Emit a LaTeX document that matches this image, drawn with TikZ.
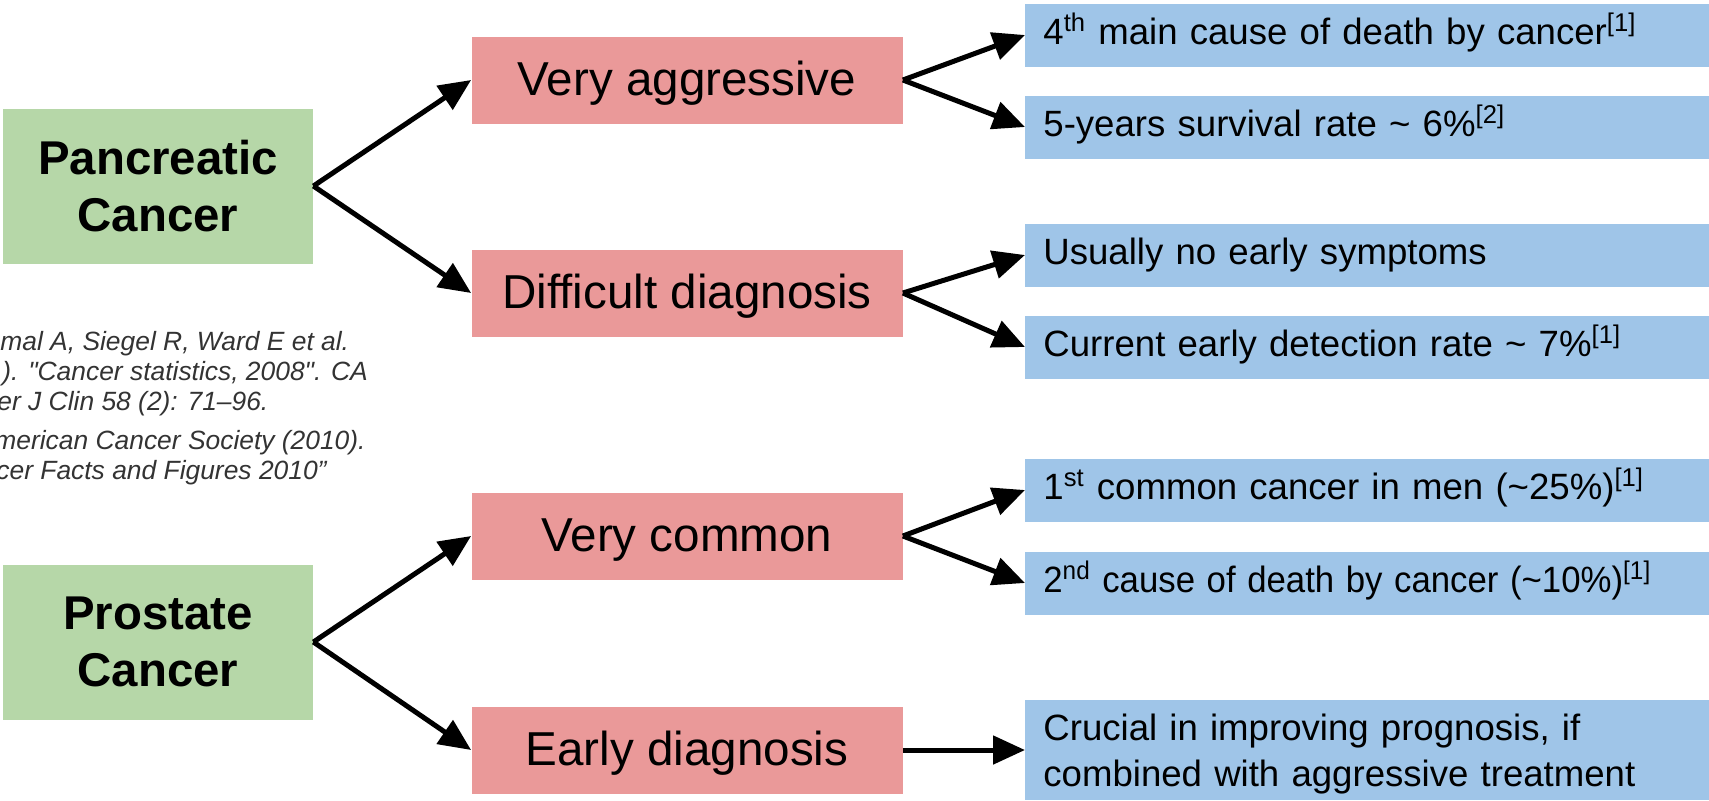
\documentclass[tikz,border=0pt]{standalone}
\usepackage{fontspec}
\setmainfont{Liberation Sans}
\usetikzlibrary{arrows.meta}
\definecolor{boxgreen}{HTML}{B6D7A8}
\definecolor{boxred}{HTML}{EA9999}
\definecolor{boxblue}{HTML}{9FC5E8}
\definecolor{citegray}{HTML}{333333}

\begin{document}
\begin{tikzpicture}[x=0.5pt, y=-0.5pt,
  >={Triangle[length=16pt, width=14pt]},
  link/.style={->, line width=2.5pt},
  cancer/.style={fill=boxgreen, minimum width=155pt, minimum height=77.5pt, align=center, font=\fontsize{23.7}{28.5}\selectfont\bfseries},
  trait/.style={fill=boxred, minimum width=215.5pt, minimum height=43.5pt, text height=20pt, text depth=4.8pt, font=\fontsize{23.8}{28}\selectfont},
  fact/.style={fill=boxblue, anchor=west, text width=324pt, inner xsep=9pt, minimum height=31.5pt, align=left, font=\fontsize{18.3}{21.5}\selectfont},
  onefact/.style={fact, text height=13pt, text depth=4pt},
  cite/.style={anchor=base west, inner sep=0pt, text=citegray, font=\fontsize{13.2}{15.5}\selectfont\itshape}]
\useasboundingbox (0, 0) rectangle (1709, 800);

\node[cancer] (pancreatic) at (158, 186) {Pancreatic\\Cancer};
\node[cancer] (prostate) at (158, 642) {Prostate\\Cancer};

\node[trait] (aggressive) at (687, 80) {Very aggressive};
\node[trait] (difficult) at (687, 293) {Difficult diagnosis};
\node[trait] (common) at (687, 536) {Very common};
\node[trait] (early) at (687, 750) {Early diagnosis};

\node[onefact] (death) at (1025, 35) {4\textsuperscript{th} main cause of death by cancer\textsuperscript{[1]}};
\node[onefact] (survival) at (1025, 127) {5-years survival rate \textasciitilde{} 6\%\textsuperscript{[2]}};
\node[onefact] (symptoms) at (1025, 255) {Usually no early symptoms};
\node[onefact] (detection) at (1025, 347) {Current early detection rate \textasciitilde{} 7\%\textsuperscript{[1]}};
\node[onefact] (men) at (1025, 490) {1\textsuperscript{st} common cancer in men (\textasciitilde25\%)\textsuperscript{[1]}};
\node[onefact] (second) at (1025, 583) {\scalebox{0.95}[1]{2\textsuperscript{nd} cause of death by cancer (\textasciitilde10\%)\textsuperscript{[1]}}};
\node[fact, minimum height=47.5pt, text height=17pt, font=\fontsize{18.3}{23}\selectfont] (prognosis) at (1025, 750) {Crucial in improving prognosis, if\\combined with aggressive treatment};

\node[cite] (jemal) at (0, 350) {mal A, Siegel R, Ward E et al.};
\node[cite] (stats) at (2, 380) {). \textquotedbl Cancer statistics, 2008\textquotedbl. CA};
\node[cite] (clin) at (-3, 410) {er J Clin 58 (2): 71--96.};
\node[cite] (society) at (-6, 449) {merican Cancer Society (2010).};
\node[cite] (facts) at (-4, 479) {cer Facts and Figures 2010”};

\draw[link] (pancreatic.east) -- (aggressive.west);
\draw[link] (pancreatic.east) -- (difficult.west);
\draw[link] (prostate.east) -- (common.west);
\draw[link] (prostate.east) -- (early.west);

\draw[link] (aggressive.east) -- (death.west);
\draw[link] (aggressive.east) -- (survival.west);
\draw[link] (difficult.east) -- (symptoms.west);
\draw[link] (difficult.east) -- (detection.west);
\draw[link] (common.east) -- (men.west);
\draw[link] (common.east) -- (second.west);
\draw[link] (early.east) -- (prognosis.west);
\end{tikzpicture}
\end{document}
